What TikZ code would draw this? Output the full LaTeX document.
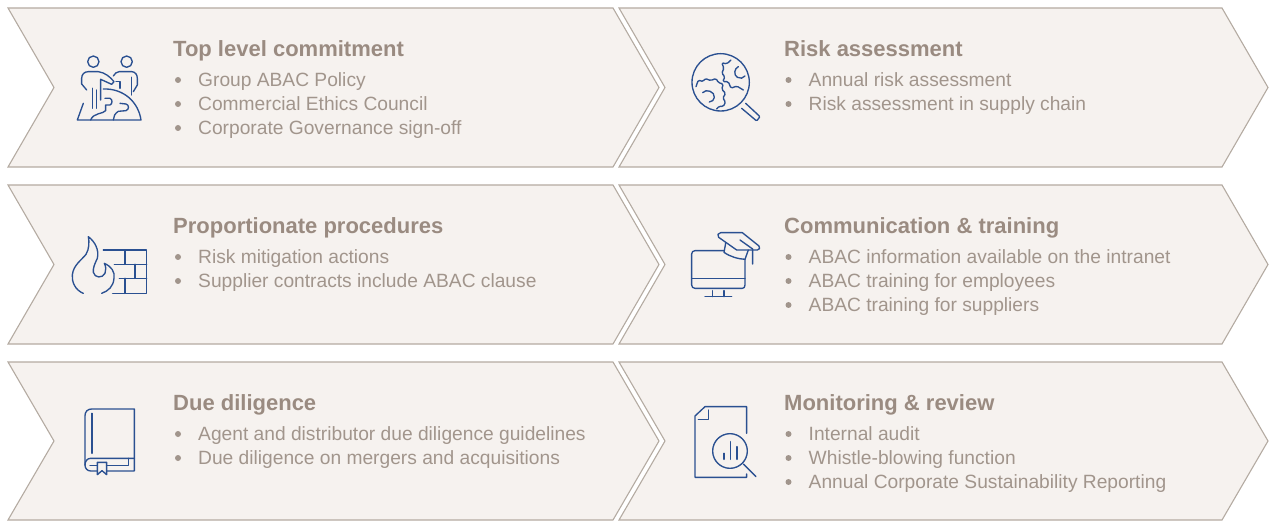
\documentclass[tikz,border=0pt]{standalone}
\usepackage{fontspec}
\setmainfont{Liberation Sans}
\definecolor{panelfill}{HTML}{F6F2EF}
\definecolor{panelline}{HTML}{B4ABA2}
\definecolor{headtext}{HTML}{9A8B81}
\definecolor{bodytext}{HTML}{A1958C}
\definecolor{iconblue}{HTML}{2A5091}
\tikzset{
  panel/.style={fill=panelfill,draw=panelline,line width=1.1pt,line join=miter},
  headlabel/.style={anchor=base west,inner sep=0pt,text=headtext,font=\fontsize{22}{26}\selectfont\bfseries},
  itemlabel/.style={anchor=base west,inner sep=0pt,text=bodytext,font=\fontsize{19.2}{23}\selectfont},
  bulletmark/.style={circle,fill=bodytext,inner sep=0pt,minimum size=6pt},
  iconline/.style={draw=iconblue,line width=1.35pt,line cap=round,line join=round,fill=none}
}
% #1 = top y, #2 = bottom y
\newcommand{\leftpanel}[2]{\draw[panel] (8,#1) -- (613,#1) -- (659,{(#1+#2)/2}) -- (613,#2) -- (8,#2) -- (54,{(#1+#2)/2}) -- cycle;}
\newcommand{\rightpanel}[2]{\draw[panel] (619,#1) -- (1222,#1) -- (1268,{(#1+#2)/2}) -- (1222,#2) -- (619,#2) -- (665,{(#1+#2)/2}) -- cycle;}
% #1 name, #2 x of bullet, #3 baseline y, #4 text
\newcommand{\itemrow}[4]{\node[bulletmark] (#1b) at (#2,#3-6) {}; \node[itemlabel] (#1) at (#2+20,#3+0.7) {#4};}
\begin{document}
\begin{tikzpicture}[x=1pt,y=-1pt]
\useasboundingbox (0,0) rectangle (1269,521);
\leftpanel{8}{167}
\rightpanel{8}{167}
\leftpanel{185}{344}
\rightpanel{185}{344}
\leftpanel{362}{520}
\rightpanel{362}{520}

\node[headlabel] (h1) at (173,56.8) {Top level commitment};
\itemrow{a1}{178}{86}{Group ABAC Policy}
\itemrow{a2}{178}{110}{Commercial Ethics Council}
\itemrow{a3}{178}{134}{Corporate Governance sign-off}

\node[headlabel] (h2) at (784,56.8) {Risk assessment};
\itemrow{b1}{788.5}{86}{Annual risk assessment}
\itemrow{b2}{788.5}{110}{Risk assessment in supply chain}

\node[headlabel] (h3) at (173,233.8) {Proportionate procedures};
\itemrow{c1}{178}{263}{Risk mitigation actions}
\itemrow{c2}{178}{287}{Supplier contracts include ABAC clause}

\node[headlabel] (h4) at (784,233.8) {Communication \& training};
\itemrow{d1}{788.5}{263}{ABAC information available on the intranet}
\itemrow{d2}{788.5}{287}{ABAC training for employees}
\itemrow{d3}{788.5}{311}{ABAC training for suppliers}

\node[headlabel] (h5) at (173,410.8) {Due diligence};
\itemrow{e1}{178}{440}{Agent and distributor due diligence guidelines}
\itemrow{e2}{178}{464}{Due diligence on mergers and acquisitions}

\node[headlabel] (h6) at (784,410.8) {Monitoring \& review};
\itemrow{f1}{788.5}{440}{Internal audit}
\itemrow{f2}{788.5}{464}{Whistle-blowing function}
\itemrow{f3}{788.5}{488}{Annual Corporate Sustainability Reporting}

% Icon 1: people on a puzzle globe
\begin{scope}[shift={(60,40)},x=0.3333pt,y=-0.3333pt,iconline]
\draw (100,65) circle[radius=17];
\draw (200,65) circle[radius=17];
\draw (80,150) -- (65,132) -- (65,115) .. controls (65,103) and (73,95) .. (85,95) -- (115,95) .. controls (135,98) and (150,110) .. (162,125) -- (155,133) -- (122,118) -- (122,180);
\draw (97,145) -- (97,205);
\draw (110,150) -- (110,205);
\draw (160,108) .. controls (165,100) and (170,95) .. (178,95) -- (215,95) .. controls (226,95) and (232,105) .. (232,115) -- (232,135) -- (220,155);
\draw (215,112) -- (215,165);
\draw (168,125) -- (180,125) -- (180,145);
\draw (130,147) .. controls (190,145) and (235,185) .. (243,240) -- (52,240) -- (70,190);
\draw (135,175) -- (150,175) .. controls (158,178) and (158,192) .. (150,195) -- (137,195) -- (137,212) .. controls (130,222) and (100,218) .. (92,240);
\draw (180,190) -- (198,192) .. controls (208,195) and (208,208) .. (198,212) -- (175,214) .. controls (165,220) and (160,230) .. (160,240);
\end{scope}

% Icon 2: gears under a magnifier
\begin{scope}[shift={(680,40)},x=0.3333pt,y=-0.3333pt,iconline]
\draw (122,127) circle[radius=86];
\draw[rounded corners=1pt] (197,190) -- (240,230) -- (230,243) -- (185,205);
\draw[rounded corners=1.5pt] (48,140) -- (55,120) -- (70,125) -- (75,115) -- (92,122) -- (108,115) -- (115,128) -- (130,132) -- (125,148) -- (137,160) -- (128,175) -- (137,185) -- (130,200) -- (118,198) -- (110,207);
\draw[rounded corners=1.5pt] (153,60) -- (140,72) -- (125,68) -- (132,85) -- (125,100) -- (135,110) -- (128,125) -- (145,125) -- (153,145) -- (170,138) -- (190,150);
\draw (68,158) .. controls (78,145) and (105,155) .. (103,172) .. controls (102,180) and (97,185) .. (88,186);
\draw (175,80) .. controls (163,85) and (160,105) .. (172,112) .. controls (180,117) and (190,115) .. (195,108);
\end{scope}

% Icon 3: flame and wall
\begin{scope}[shift={(60,225)},x=0.3333pt,y=-0.3333pt,iconline]
\draw (70,205) .. controls (45,195) and (35,170) .. (37,150) .. controls (40,120) and (65,105) .. (78,88) .. controls (88,72) and (88,50) .. (85,35) .. controls (105,50) and (118,75) .. (112,100) .. controls (105,115) and (98,130) .. (100,142) .. controls (104,160) and (128,160) .. (135,145) .. controls (139,135) and (138,125) .. (133,115) .. controls (155,125) and (165,140) .. (162,160) .. controls (160,185) and (145,198) .. (125,205);
\draw (130,75) -- (260,75) -- (260,205) -- (158,205);
\draw (163,118) -- (260,118);
\draw (178,160) -- (260,160);
\draw (195,75) -- (195,118);
\draw (225,118) -- (225,160);
\draw (195,160) -- (195,205);
\end{scope}

% Icon 4: monitor and graduation cap
\begin{scope}[shift={(680,225)},x=0.3333pt,y=-0.3333pt,iconline]
\draw (132,77) -- (45,77) .. controls (39,77) and (35,81) .. (35,87) -- (35,180) .. controls (35,186) and (39,190) .. (45,190) -- (187,190) .. controls (192,190) and (195,186) .. (195,180) -- (195,103);
\draw (35,161) -- (195,161);
\draw (98,197) -- (98,215);
\draw (132,197) -- (132,215);
\draw (75,215) -- (155,215);
\draw (122,23) -- (187,23) -- (237,63) .. controls (242,68) and (238,75) .. (232,75) -- (170,75) -- (116,37) .. controls (110,32) and (114,23) .. (122,23);
\draw (180,45) -- (218,72) -- (218,117);
\draw (137,55) -- (132,82) .. controls (150,95) and (175,102) .. (195,103) -- (205,75);
\end{scope}

% Icon 5: book with bookmark
\begin{scope}[shift={(70,400)},x=0.3333pt,y=-0.3333pt,iconline]
\draw (82,213) -- (62,213) .. controls (52,213) and (45,205) .. (45,195) -- (45,47) .. controls (45,35) and (53,27) .. (65,27) -- (193,27) -- (193,213) -- (110,213);
\draw (45,195) .. controls (45,183) and (52,175) .. (62,175) -- (193,175);
\draw (66,40) -- (66,160);
\draw (175,175) -- (175,197) -- (110,197);
\draw (82,197) -- (60,197);
\draw (82,187) -- (110,187) -- (110,224) -- (96,212) -- (82,224) -- cycle;
\end{scope}

% Icon 6: document under a magnifier
\begin{scope}[shift={(680,400)},x=0.3333pt,y=-0.3333pt,iconline]
\draw (200,100) -- (200,20) -- (75,20) -- (45,48) -- (45,232) -- (200,232) -- (200,222);
\draw (85,30) -- (85,58) -- (55,58);
\draw (150,153) circle[radius=52];
\draw (190,192) -- (228,230);
\draw (132,160) -- (132,178);
\draw (151,125) -- (151,178);
\draw (171,140) -- (171,178);
\end{scope}
\end{tikzpicture}
\end{document}
